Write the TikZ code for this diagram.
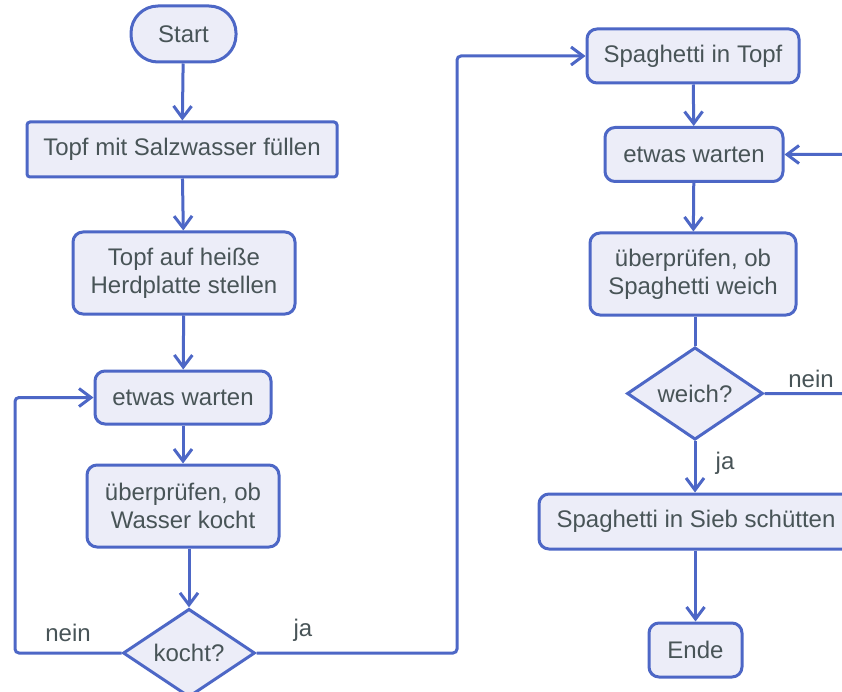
\documentclass[tikz,border=0pt]{standalone}
\usepackage{fontspec}
\setmainfont{Liberation Sans}
\usetikzlibrary{shapes.geometric,arrows.meta}

\definecolor{flowline}{HTML}{4D67C6}
\definecolor{flowfill}{HTML}{ECEDF8}
\definecolor{flowtext}{HTML}{485457}

\tikzset{
  box/.style={draw=flowline, fill=flowfill, line width=3pt, rectangle,
    rounded corners=10pt, inner sep=0pt, align=center, text=flowtext,
    font=\fontsize{24}{28}\selectfont},
  terminal/.style={box, rounded corners=27pt},
  decision/.style={box, diamond, rounded corners=0pt},
  flow/.style={draw=flowline, line width=3pt, rounded corners=4pt,
    -{Straight Barb[length=12pt,width=18pt]}},
  plain/.style={draw=flowline, line width=3pt, rounded corners=4pt},
  lbl/.style={text=flowtext, font=\fontsize{24}{28}\selectfont, inner sep=0pt}
}

\begin{document}
\begin{tikzpicture}[x=1pt,y=-1pt]
            \clip (0,0) rectangle (842,692);

            % Wasser
            \node[terminal, minimum width=105, minimum height=56] (start) at (183.5,34) {Start};
            \node[box, rounded corners=3pt, minimum width=310, minimum height=55] (fuellen) at (182,149.5) {Topf mit Salzwasser füllen};
            \node[box, minimum width=222, minimum height=82] (herd) at (184,273) {Topf auf heiße\\Herdplatte stellen};
            \node[box, minimum width=176, minimum height=53] (warten1) at (183,397.5) {etwas warten};
            \node[box, minimum width=192, minimum height=82] (pruef1) at (183,506) {überprüfen, ob\\Wasser kocht};
            \node[decision, minimum width=132, minimum height=82] (kocht) at (189,653) {kocht?};

            % Spaghetti
            \node[box, minimum width=212, minimum height=54] (topf) at (693,56) {Spaghetti in Topf};
            \node[box, minimum width=178, minimum height=54] (warten2) at (694,154.5) {etwas warten};
            \node[box, minimum width=206, minimum height=82] (pruef2) at (693,274) {überprüfen, ob\\Spaghetti weich};
            \node[decision, minimum width=136, minimum height=83] (weich) at (695,393.5) {weich?};
            \node[box, minimum width=314, minimum height=55] (sieb) at (696,521.5) {Spaghetti in Sieb schütten};
            \node[box, minimum width=93, minimum height=54] (ende) at (695.5,650) {Ende};

            % Labels
            \node[lbl] (neinA) at (68,633) {nein};
            \node[lbl] (jaA) at (303,630) {ja};
            \node[lbl] (neinB) at (811,379) {nein};
            \node[lbl] (jaB) at (725,463) {ja};

            % Knicke
            \coordinate (loopL) at (15,0);
            \coordinate (loopM) at (457,0);
            \coordinate (loopR) at (860,0);

            % Verbindungen
            \draw[flow] (start) -- (fuellen);
            \draw[flow] (fuellen) -- (herd);
            \draw[flow] (herd) -- (warten1);
            \draw[flow] (warten1) -- (pruef1);
            \draw[flow] (kocht.north |- pruef1.south) -- (kocht.north);
            \draw[flow] (kocht.west) -- (kocht.west -| loopL) |- (warten1.west);
            \draw[flow] (kocht.east) -- (kocht.east -| loopM) |- (topf.west);

            \draw[flow] (topf) -- (warten2);
            \draw[flow] (warten2) -- (pruef2);
            \draw[plain] (weich.north |- pruef2.south) -- (weich.north);
            \draw[flow] (weich.east) -- (weich.east -| loopR) |- (warten2.east);
            \draw[flow] (weich.south) -- (weich.south |- sieb.north);
            \draw[flow] (ende.north |- sieb.south) -- (ende.north);

\end{tikzpicture}
\end{document}
